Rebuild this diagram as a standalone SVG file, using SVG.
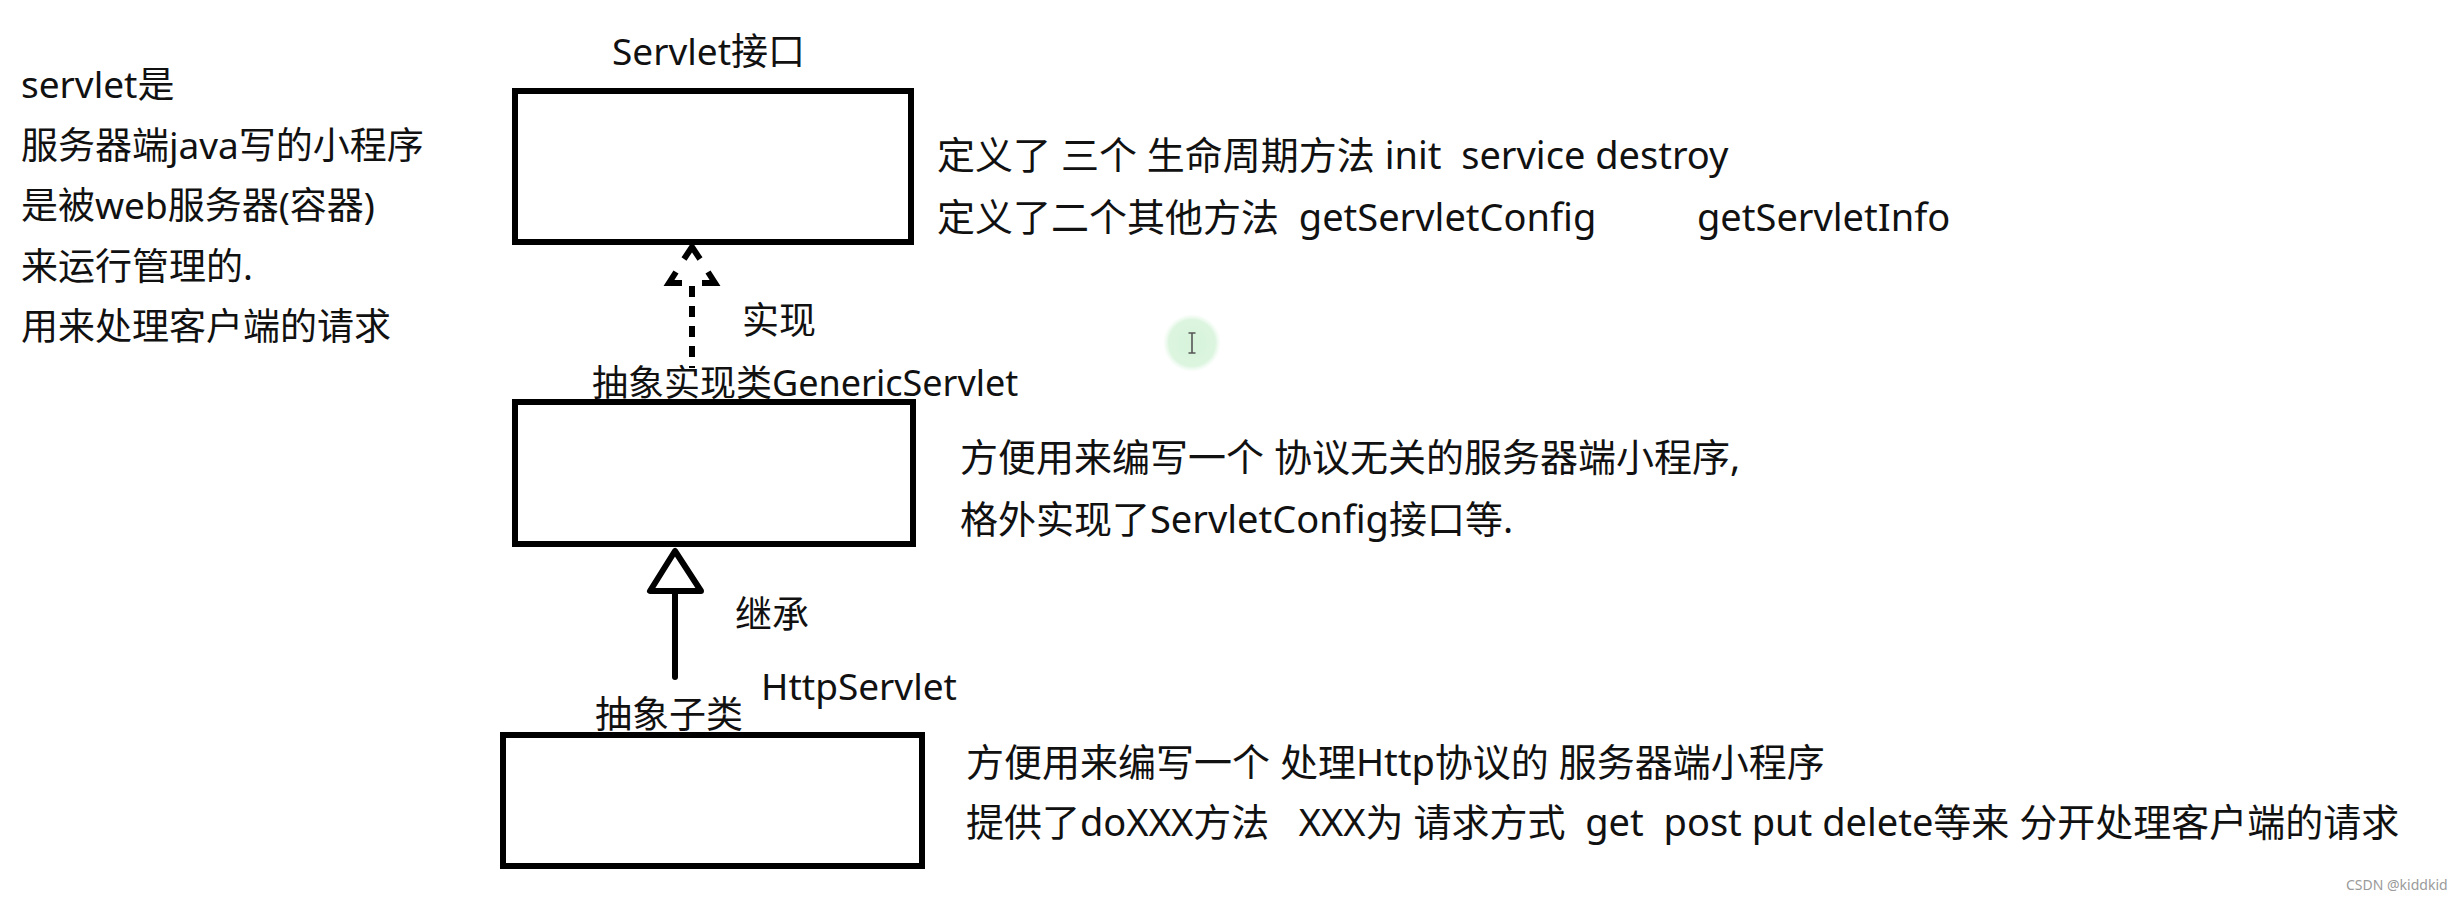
<svg xmlns="http://www.w3.org/2000/svg" width="2452" height="900" viewBox="0 0 2452 900">
<defs>
<style>
text{font-family:"Noto Sans","Noto Sans CJK SC",sans-serif;fill:#111;white-space:pre}
.l{font-size:37px}
.d{font-size:38px}
.box{fill:#fff;stroke:#000;stroke-width:6}
.ln{fill:none;stroke:#000;stroke-width:6}
.wm{font-size:14px;fill:#9a9a9a}
</style>
<radialGradient id="glow">
<stop offset="0" stop-color="#d6f3da"/>
<stop offset="0.8" stop-color="#dcf5df"/>
<stop offset="1" stop-color="#e8f8ea" stop-opacity="0"/>
</radialGradient>
</defs>
<rect width="2452" height="900" fill="#fff"/>

<g id="intro">
<text class="l" x="21" y="98">servlet是</text>
<text class="l" x="21" y="159">服务器端java写的小程序</text>
<text class="l" x="21" y="219">是被web服务器(容器)</text>
<text class="l" x="21" y="280">来运行管理的.</text>
<text class="l" x="21" y="340">用来处理客户端的请求</text>
</g>

<g id="servlet">
<text class="l" x="612" y="65">Servlet接口</text>
<rect class="box" x="515" y="91" width="396" height="151"/>
<text class="d" x="937" y="169" xml:space="preserve">定义了 三个 生命周期方法 init  service destroy</text>
<text class="d" x="937" y="231" xml:space="preserve">定义了二个其他方法  getServletConfig</text>
<text class="d" x="1697" y="231">getServletInfo</text>
</g>

<g id="generic">
<text class="l" x="592" y="396" style="font-size:36px">抽象实现类GenericServlet</text>
<rect class="box" x="515" y="402" width="398" height="142"/>
<text class="d" x="960" y="471">方便用来编写一个 协议无关的服务器端小程序,</text>
<text class="d" x="960" y="533">格外实现了ServletConfig接口等.</text>
</g>

<g id="http">
<text class="l" x="761" y="700">HttpServlet</text>
<text class="l" x="595" y="728">抽象子类</text>
<rect class="box" x="503" y="735" width="419" height="131"/>
<text class="d" x="966" y="776">方便用来编写一个 处理Http协议的 服务器端小程序</text>
<text class="d" x="966" y="836" xml:space="preserve">提供了doXXX方法   XXX为 请求方式  get  post put delete等来 分开处理客户端的请求</text>
</g>

<g id="connectors">
<g id="implements">
<path class="ln" d="M692 286 L692 368" stroke-dasharray="11 9"/>
<path class="ln" d="M684 259 L692 247 L700 259" stroke-linejoin="miter"/>
<path class="ln" d="M676 272 L669 283 L682 283"/>
<path class="ln" d="M708 272 L715 283 L702 283"/>
<text class="l" x="742" y="334">实现</text>
</g>
<g id="extends">
<path class="ln" d="M675 592 L675 677" stroke-linecap="round"/>
<polygon class="ln" points="675,551 650,591 701,591" stroke-linejoin="round"/>
<text class="l" x="735" y="628">继承</text>
</g>
</g>

<g id="cursor">
<circle cx="1192" cy="343" r="29" fill="url(#glow)"/>
<path d="M1192 333 L1192 353 M1188.5 333 L1195.5 333 M1188.5 353 L1195.5 353" stroke="#555" stroke-width="1.6" fill="none"/>
</g>

<text class="wm" x="2346" y="890">CSDN @kiddkid</text>
</svg>
